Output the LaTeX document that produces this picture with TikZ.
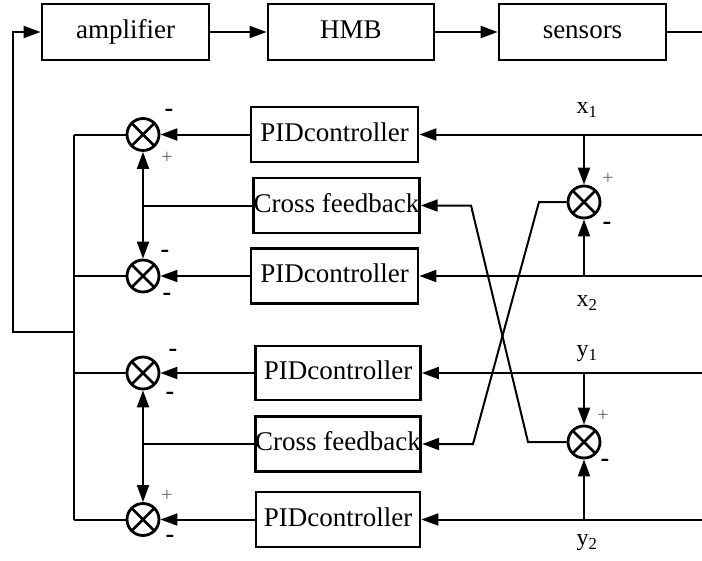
\documentclass[tikz,border=0pt]{standalone}
\usepackage{fontspec}
\setmainfont{Liberation Serif}
\usetikzlibrary{arrows.meta}
\begin{document}
\begin{tikzpicture}[x=1pt,y=-1pt,
  blk/.style={draw,line width=2.8pt,inner sep=0pt,text height=19pt,text depth=6pt,font=\fontsize{27}{30}\selectfont},
  sumj/.style={draw,circle,line width=2.8pt,minimum size=32pt,inner sep=0pt,
    path picture={\draw[line width=2.8pt] (path picture bounding box.north west) -- (path picture bounding box.south east)
      (path picture bounding box.north east) -- (path picture bounding box.south west);}},
  ln/.style={line width=2pt},
  arr/.style={ln,-{Triangle[length=17pt,width=12pt]}},
  darr/.style={ln,{Triangle[length=17pt,width=12pt]}-{Triangle[length=17pt,width=12pt]}},
  sgn/.style={font=\fontsize{26}{28}\selectfont\bfseries,inner sep=0pt},
  psgn/.style={font=\fontsize{20}{22}\selectfont,inner sep=0pt,text=black!60},
  lab/.style={font=\fontsize{24}{26}\selectfont,inner sep=0pt}]
\useasboundingbox (0,0) rectangle (702,560);
% top row
\node[blk,minimum width=167pt,minimum height=56pt] (amp) at (125.5,32) {amplifier};
\node[blk,minimum width=166pt,minimum height=56pt] (hmb) at (351,32) {HMB};
\node[blk,minimum width=167pt,minimum height=56pt] (sen) at (582.5,32) {sensors};
\coordinate (senout) at (702,32);
\draw[arr] (amp) -- (hmb);
\draw[arr] (hmb) -- (sen);
\draw[ln] (sen) -- (senout);
% blocks
\node[blk,minimum width=167pt,minimum height=55pt] (pid1) at (334.5,134.5) {PIDcontroller};
\node[blk,minimum width=165pt,minimum height=55pt] (cf1) at (336.5,205.5) {Cross feedback};
\node[blk,minimum width=167pt,minimum height=55pt] (pid2) at (334.5,276) {PIDcontroller};
\node[blk,minimum width=165pt,minimum height=54pt] (pid3) at (338,373) {PIDcontroller};
\node[blk,minimum width=164pt,minimum height=55pt] (cf2) at (338,444) {Cross feedback};
\node[blk,minimum width=164pt,minimum height=55pt] (pid4) at (338,519.5) {PIDcontroller};
% summing junctions
\node[sumj] (s1) at (143,134.5) {};
\node[sumj] (s2) at (143,276) {};
\node[sumj] (s3) at (143,373) {};
\node[sumj] (s4) at (143,519.5) {};
\node[sumj] (r1) at (584,202) {};
\node[sumj] (r2) at (584,442) {};
% right inputs
\coordinate (in1) at (702,134.5);
\coordinate (in2) at (702,276);
\coordinate (in3) at (702,373);
\coordinate (in4) at (702,519.5);
\coordinate (b1) at (584,134.5);
\coordinate (b2) at (584,276);
\coordinate (b3) at (584,373);
\coordinate (b4) at (584,519.5);
\draw[arr] (in1) -- (pid1);
\draw[arr] (in2) -- (pid2);
\draw[arr] (in3) -- (pid3);
\draw[arr] (in4) -- (pid4);
\draw[arr] (b1) -- (r1);
\draw[arr] (b2) -- (r1);
\draw[arr] (b3) -- (r2);
\draw[arr] (b4) -- (r2);
% cross lines
\coordinate (c1a) at (539,202);
\coordinate (c1b) at (473,444);
\coordinate (c2a) at (528,442);
\coordinate (c2b) at (471,205.5);
\draw[arr] (r1.west) -- (c1a) -- (c1b) -- (cf2.east);
\draw[arr] (r2.west) -- (c2a) -- (c2b) -- (cf1.east);
% left side
\draw[arr] (pid1) -- (s1);
\draw[arr] (pid2) -- (s2);
\draw[arr] (pid3) -- (s3);
\draw[arr] (pid4) -- (s4);
\draw[darr] (s1) -- (s2);
\draw[darr] (s3) -- (s4);
\coordinate (k1) at (143,205.5);
\coordinate (k2) at (143,444);
\draw[ln] (k1) -- (cf1);
\draw[ln] (k2) -- (cf2);
\coordinate (t1) at (74,134.5);
\coordinate (t2) at (74,276);
\coordinate (t3) at (74,373);
\coordinate (t4) at (74,519.5);
\coordinate (tm) at (74,332);
\coordinate (fb1) at (13,332);
\coordinate (fb2) at (13,32);
\draw[ln] (s1) -- (t1);
\draw[ln] (s2) -- (t2);
\draw[ln] (s3) -- (t3);
\draw[ln] (s4) -- (t4);
\draw[ln] (t1) -- (t4);
\draw[arr] (tm) -- (fb1) -- (fb2) -- (amp);
% signs
\node[sgn] at (169,113) {-};
\node[psgn] at (167,158) {+};
\node[sgn] at (165,254) {-};
\node[sgn] at (167,297) {-};
\node[sgn] at (173,353) {-};
\node[sgn] at (170,396) {-};
\node[psgn] at (167,496) {+};
\node[sgn] at (170,539) {-};
\node[psgn] at (608,179) {+};
\node[sgn] at (607,226) {-};
\node[psgn] at (603,416) {+};
\node[sgn] at (605,463) {-};
% labels
\node[lab] at (587,110) {x\textsubscript{1}};
\node[lab] at (587,303) {x\textsubscript{2}};
\node[lab] at (587,354) {y\textsubscript{1}};
\node[lab] at (587,543) {y\textsubscript{2}};
\end{tikzpicture}
\end{document}
